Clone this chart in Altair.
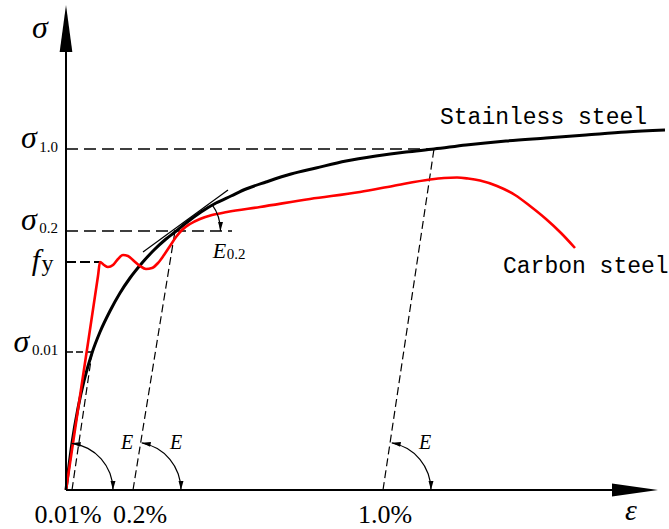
import math
import altair as alt
import pandas as pd

# Schematic stress-strain diagram. Units are arbitrary: strain runs along x,
# stress along y, one unit per screen pixel, origin at the axes' corner.

# Stainless steel (round-house curve)
ss_eps = [0, 6, 12, 18, 26, 34, 44, 54, 64, 76, 88, 100, 109, 120, 135, 150, 165, 180,
          200, 225, 250, 280, 310, 340, 368, 400, 440, 480, 520, 560, 599]
ss_sig = [0, 47, 82, 109, 137, 158, 179, 197, 212, 227, 240, 251, 258, 267, 278, 287, 294, 301,
          308, 316, 322, 329, 334, 338, 341, 345, 349, 352, 355, 358, 360]

# Carbon steel (yield plateau with wiggle, hardening, necking)
cs_eps = [0, 17, 32, 34, 38, 42, 47, 52, 57, 62, 68, 74, 80, 86, 92, 98, 104, 110, 116,
          124, 134, 146, 161, 194, 244, 294, 327, 364, 378, 391, 402, 414, 431, 449, 464,
          480, 495, 509]
cs_sig = [0, 114, 214, 228, 225, 223, 225, 231, 235, 234, 229, 224, 221, 222, 227, 235, 244, 253, 260,
          266, 271, 275, 278, 283, 291, 298, 304, 310.5, 312, 312.5, 311.5, 309.5, 304, 295, 284,
          271, 257, 242]

# Characteristic stress levels and where their dashed guides end
lvl_sig = [341, 259, 138]
lvl_end = [368, 166, 26]
fy_sig = 228
fy_end = 34

# Offset lines parallel to E: foot on the strain axis, top on the curve
off_foot = [6, 67, 317]
off_top_eps = [26, 109, 368]
off_top_sig = [137, 259, 341]

# Tangent (E0.2) at the 0.2% proof point
tan_eps = [77, 162]
tan_sig = [238, 300]

# Angle markers: centre, radius, start/end angle (rad, clockwise from up)
arc_cx = [0, 67, 317, 109]
arc_cy = [0, 0, 0, 259]
arc_r = [47, 48, 48, 45.5]
arc_t0 = [0.12, 0.183, 0.183, 0.941]
arc_t1 = [math.pi / 2] * 4
arc_start_head = [True, True, True, False]

# Strain tick labels
tick_text = ["0.01%", "0.2%", "1.0%"]
tick_eps = [2, 74, 319]

xs = alt.Scale(domain=[-66, 603], nice=False, zero=False)
ys = alt.Scale(domain=[-39, 490], nice=False, zero=False)


def X(f):
    return alt.X(f, type="quantitative", scale=xs, axis=None)


def Y(f):
    return alt.Y(f, type="quantitative", scale=ys, axis=None)


SERIF = "Liberation Serif"
MONO = "Liberation Mono"

# --- axes with arrowheads ---
axes_df = pd.DataFrame({"x0": [0, 0], "x1": [560, 0], "y0": [0, 0], "y1": [0, 445]})
axes = alt.Chart(axes_df).mark_rule(color="black", strokeWidth=2).encode(
    x=X("x0"), x2=alt.X2("x1"), y=Y("y0"), y2=alt.Y2("y1"))

y_head = alt.Chart(pd.DataFrame({"eps": [0], "sig": [461.5]})).mark_point(
    shape="M0,-1L0.27,1L-0.27,1Z", size=2209, filled=True, color="black", opacity=1
).encode(x=X("eps"), y=Y("sig"))
x_head = alt.Chart(pd.DataFrame({"eps": [569], "sig": [0]})).mark_point(
    shape="M1,0L-1,-0.28L-1,0.28Z", size=2116, filled=True, color="black", opacity=1
).encode(x=X("eps"), y=Y("sig"))

# --- dashed guides ---
lvl_df = pd.DataFrame({"x0": [0] * 3, "x1": lvl_end, "sig": lvl_sig, "k": ["a", "a", "b"]})
lvl_long = alt.Chart(lvl_df[lvl_df.k == "a"]).mark_rule(
    color="black", strokeWidth=1.3, strokeDash=[12, 6]).encode(
    x=X("x0"), x2=alt.X2("x1"), y=Y("sig"))
lvl_short = alt.Chart(lvl_df[lvl_df.k == "b"]).mark_rule(
    color="black", strokeWidth=1.3, strokeDash=[7, 3]).encode(
    x=X("x0"), x2=alt.X2("x1"), y=Y("sig"))
fy_rule = alt.Chart(pd.DataFrame({"x0": [0], "x1": [fy_end], "sig": [fy_sig]})).mark_rule(
    color="black", strokeWidth=2, strokeDash=[10, 4]).encode(
    x=X("x0"), x2=alt.X2("x1"), y=Y("sig"))

off_df = pd.DataFrame({"x0": off_foot, "y0": [0] * 3, "x1": off_top_eps, "y1": off_top_sig})
offsets = alt.Chart(off_df).mark_rule(
    color="black", strokeWidth=1.2, strokeDash=[8, 4]).encode(
    x=X("x0"), y=Y("y0"), x2=alt.X2("x1"), y2=alt.Y2("y1"))

tangent = alt.Chart(pd.DataFrame({"x0": [tan_eps[0]], "y0": [tan_sig[0]],
                                  "x1": [tan_eps[1]], "y1": [tan_sig[1]]})).mark_rule(
    color="black", strokeWidth=1.2).encode(
    x=X("x0"), y=Y("y0"), x2=alt.X2("x1"), y2=alt.Y2("y1"))

# --- curves ---
ss_df = pd.DataFrame({"eps": ss_eps, "sig": ss_sig})
cs_df = pd.DataFrame({"eps": cs_eps, "sig": cs_sig})
ss_line = alt.Chart(ss_df).mark_line(color="black", strokeWidth=3, interpolate="monotone").encode(
    x=X("eps"), y=Y("sig"), order="eps:Q")
cs_line = alt.Chart(cs_df).mark_line(color="#ff0000", strokeWidth=2.6, interpolate="monotone").encode(
    x=X("eps"), y=Y("sig"), order="eps:Q")

# --- angle markers ---
arc_df = pd.DataFrame({"cx": arc_cx, "cy": arc_cy, "t0": arc_t0, "t1": arc_t1,
                       "ro": [r + 0.6 for r in arc_r], "ri": [r - 0.6 for r in arc_r]})
arcs = alt.Chart(arc_df).mark_arc(color="black", strokeWidth=0).encode(
    x=X("cx"), y=Y("cy"),
    theta=alt.Theta("t0:Q", scale=None, stack=False), theta2=alt.Theta2("t1"),
    radius=alt.Radius("ro:Q", scale=None), radius2=alt.Radius2("ri"))

heads = []
for cx, cy, r, t0, t1, sh in zip(arc_cx, arc_cy, arc_r, arc_t0, arc_t1, arc_start_head):
    heads.append({"eps": cx + r * math.sin(t1), "sig": cy + r * math.cos(t1), "ang": 180})
    if sh:
        heads.append({"eps": cx + r * math.sin(t0), "sig": cy + r * math.cos(t0),
                      "ang": 270 + math.degrees(t0)})
head_df = pd.DataFrame(heads)
arc_heads = alt.Chart(head_df).mark_point(
    shape="M0,0L0.55,2L-0.55,2Z", size=81, filled=True, color="black", opacity=1).encode(
    x=X("eps"), y=Y("sig"), angle=alt.Angle("ang:Q", scale=None))


# --- text ---
def text_layer(df, **props):
    base = dict(color="black", baseline="alphabetic", align="center")
    base.update(props)
    return alt.Chart(df).mark_text(**base).encode(x=X("eps"), y=Y("sig"), text="t:N")


sig_syms = text_layer(pd.DataFrame({"t": ["σ", "σ", "σ"], "eps": [-37, -37, -44.5],
                                    "sig": [342, 260, 138]}),
                      font=SERIF, fontStyle="italic", fontSize=32)
sig_subs = text_layer(pd.DataFrame({"t": ["1.0", "0.2", "0.01"], "eps": [-17.5, -17.5, -21],
                                    "sig": [338, 257, 135]}),
                      font=SERIF, fontSize=15)
f_sym = text_layer(pd.DataFrame({"t": ["f"], "eps": [-30], "sig": [220]}),
                   font=SERIF, fontStyle="italic", fontSize=30)
y_sub = text_layer(pd.DataFrame({"t": ["y"], "eps": [-18.5], "sig": [219]}),
                   font=SERIF, fontSize=24)
top_sym = text_layer(pd.DataFrame({"t": ["σ"], "eps": [-26], "sig": [452]}),
                     font=SERIF, fontStyle="italic", fontSize=32)
eps_sym = text_layer(pd.DataFrame({"t": ["ε"], "eps": [565], "sig": [-30]}),
                     font=SERIF, fontStyle="italic", fontSize=30)
e_labels = text_layer(pd.DataFrame({"t": ["E", "E", "E"], "eps": [61, 110, 359],
                                    "sig": [41, 41, 41]}),
                      font=SERIF, fontStyle="italic", fontSize=20)
e02 = text_layer(pd.DataFrame({"t": ["E"], "eps": [153.5], "sig": [232]}),
                 font=SERIF, fontStyle="italic", fontSize=22)
e02_sub = text_layer(pd.DataFrame({"t": ["0.2"], "eps": [170], "sig": [231]}),
                     font=SERIF, fontSize=15)
ticks = text_layer(pd.DataFrame({"t": tick_text, "eps": tick_eps, "sig": [-33] * 3}),
                   font=SERIF, fontSize=26)
names = text_layer(pd.DataFrame({"t": ["Stainless steel", "Carbon steel"], "eps": [374, 437],
                                 "sig": [366, 217]}),
                   font=MONO, fontSize=23, align="left")

chart = alt.layer(
    offsets, lvl_long, lvl_short, fy_rule, tangent,
    ss_line, cs_line, arcs, arc_heads,
    axes, y_head, x_head,
    sig_syms, sig_subs, f_sym, y_sub, top_sym, eps_sym, e_labels, e02, e02_sub, ticks, names,
).properties(
    width=669, height=529, autosize="none", padding=0
).configure_view(stroke=None)

chart.save("out.html", embed_options={"renderer": "svg", "actions": False})
